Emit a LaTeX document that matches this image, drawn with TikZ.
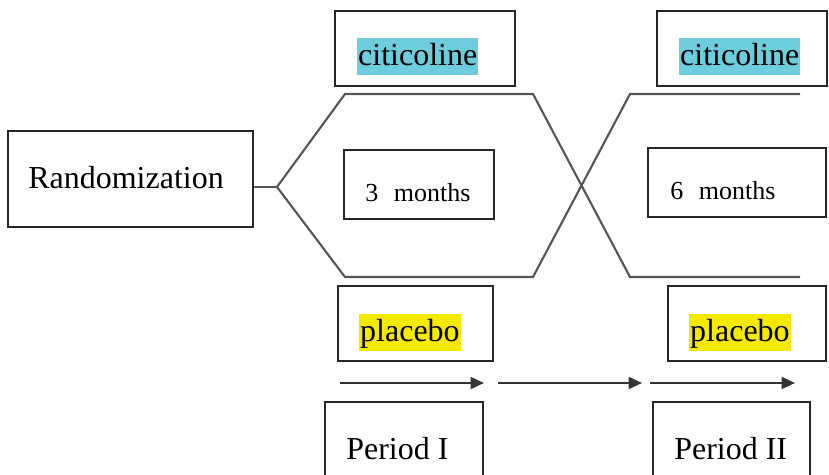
\documentclass[tikz,border=0pt]{standalone}
\usepackage{fontspec}
\setmainfont{Liberation Serif}
\usepackage{tikz}
\usetikzlibrary{arrows.meta}

\definecolor{citicyan}{RGB}{110,205,221}
\definecolor{placeyellow}{RGB}{245,233,0}
\definecolor{linegray}{RGB}{85,85,85}

\tikzset{
	box/.style={shape=rectangle, draw=black!85, line width=1.1pt, inner sep=0pt},
	lbl/.style={anchor=base west, inner sep=0pt, font=\fontsize{18.2}{20}\selectfont},
	small/.style={anchor=base west, inner sep=0pt, font=\fontsize{14.8}{17}\selectfont},
	hilite/.style={lbl, inner xsep=0.5pt, text height=0.56cm, text depth=0.18cm},
	branch/.style={-, draw=linegray, line width=1.2pt},
	timearrow/.style={-{Triangle[length=0.27cm,width=0.24cm]}, draw=black!80, line width=1.2pt}
}

\begin{document}
\begin{tikzpicture}[x=0.02cm, y=-0.02cm]
	
	\clip (0,0) rectangle (829,475);
	
	\node[box, minimum width=4.9cm,  minimum height=1.92cm] (rand) at (130.5, 179)   {};
	\node[box, minimum width=3.6cm,  minimum height=1.5cm]  (cit1) at (425, 48.5)    {};
	\node[box, minimum width=3.4cm,  minimum height=1.5cm]  (cit2) at (742, 48.5)    {};
	\node[box, minimum width=3.0cm,  minimum height=1.38cm] (m3)   at (419, 184.5)   {};
	\node[box, minimum width=3.56cm, minimum height=1.38cm] (m6)   at (737, 182.5)   {};
	\node[box, minimum width=3.1cm,  minimum height=1.5cm]  (pla1) at (415.5, 323.5) {};
	\node[box, minimum width=3.16cm, minimum height=1.5cm]  (pla2) at (747, 323.5)   {};
	\node[box, minimum width=3.16cm, minimum height=1.76cm] (per1) at (404, 446)     {};
	\node[box, minimum width=3.14cm, minimum height=1.76cm] (per2) at (731.5, 446)   {};
	
	\node[lbl] (randtxt) at (28, 189)   {Randomization};
	\node[hilite, fill=citicyan] (cit1txt) at (357, 66)  {citicoline};
	\node[hilite, fill=citicyan] (cit2txt) at (679, 66)  {citicoline};
	\node[hilite, fill=placeyellow] (pla1txt) at (359, 342) {placebo};
	\node[hilite, fill=placeyellow] (pla2txt) at (689, 342) {placebo};
	\node[small] (m3txt) at (365, 202)  {3\hspace{0.6em}months};
	\node[small] (m6txt) at (670, 200)  {6\hspace{0.6em}months};
	\node[lbl] (per1txt) at (346, 460)  {Period I};
	\node[lbl] (per2txt) at (674, 460)  {Period II};
	
	\coordinate (fork)  at (277, 187);
	\coordinate (upa)   at (345, 94);
	\coordinate (upb)   at (533, 94);
	\coordinate (upc)   at (630, 94);
	\coordinate (upd)   at (800, 94);
	\coordinate (lowa)  at (345, 277);
	\coordinate (lowb)  at (533, 277);
	\coordinate (lowc)  at (630, 277);
	\coordinate (lowd)  at (800, 277);
	
	\draw[branch] (rand.east |- fork) -- (fork);
	\draw[branch] (fork) -- (upa) -- (upb) -- (lowc) -- (lowd);
	\draw[branch] (fork) -- (lowa) -- (lowb) -- (upc) -- (upd);
	
	\coordinate (t0) at (340, 383);
	\coordinate (t1) at (484, 383);
	\coordinate (t2) at (498, 383);
	\coordinate (t3) at (642, 383);
	\coordinate (t4) at (650, 383);
	\coordinate (t5) at (795, 383);
	
	\draw[timearrow] (t0) -- (t1);
	\draw[timearrow] (t2) -- (t3);
	\draw[timearrow] (t4) -- (t5);
	
\end{tikzpicture}
\end{document}
